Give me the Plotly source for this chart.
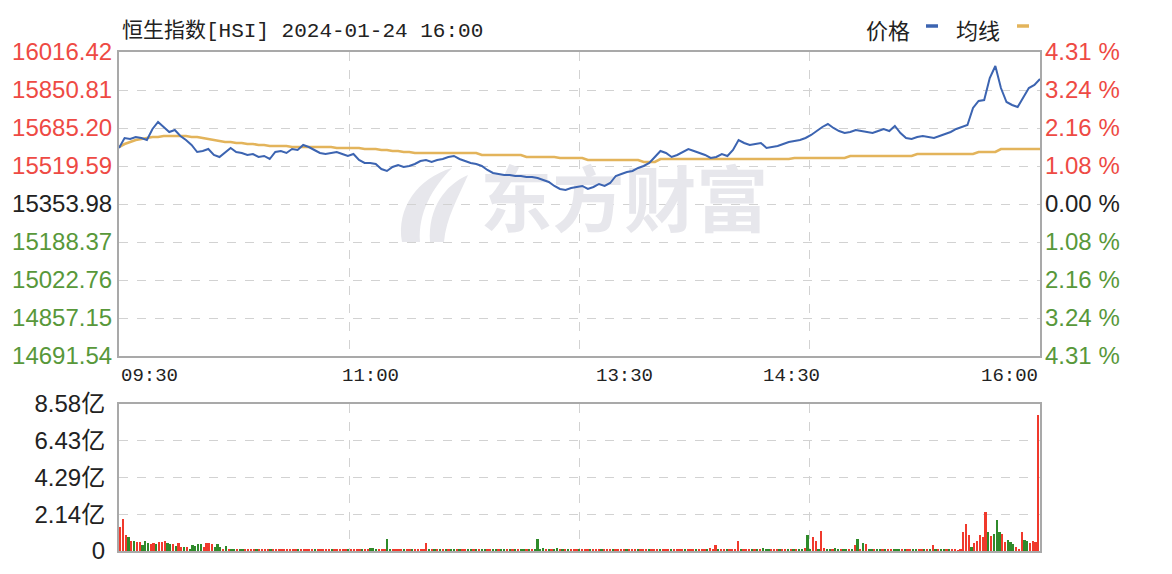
import plotly.graph_objects as go

W, H = 1172, 574

# ---------------- data ----------------
title_text = "恒生指数[HSI] 2024-01-24 16:00"
prev_close = 15353.98
price_levels = [16016.42, 15850.81, 15685.20, 15519.59, 15353.98,
                15188.37, 15022.76, 14857.15, 14691.54]
pct_labels = ["4.31 %", "3.24 %", "2.16 %", "1.08 %", "0.00 %",
              "1.08 %", "2.16 %", "3.24 %", "4.31 %"]
vol_ticks = [0, 2.14, 4.29, 6.43, 8.58]
vol_tick_labels = ["0", "2.14亿", "4.29亿", "6.43亿", "8.58亿"]
time_labels = ["09:30", "11:00", "13:30", "14:30", "16:00"]
time_pos = [0, 90, 181, 241, 330]          # minute index of each label
n_minutes = 331

# price sampled every 2 minutes (minute index 0, 2, ..., 330)
price = [
    15598.1, 15641.6, 15637.3, 15646.0, 15641.6, 15632.9, 15680.9, 15711.4, 15689.6, 15667.8,
    15676.5, 15650.4, 15632.9, 15611.1, 15580.6, 15585.0, 15593.7, 15567.6, 15558.8, 15580.6,
    15598.1, 15580.6, 15576.3, 15567.6, 15571.9, 15558.8, 15563.2, 15550.1, 15580.6, 15585.0,
    15576.3, 15593.7, 15589.3, 15611.1, 15602.4, 15589.3, 15576.3, 15571.9, 15576.3, 15580.6,
    15571.9, 15563.2, 15571.9, 15545.8, 15532.7, 15532.7, 15528.3, 15506.5, 15497.8, 15515.3,
    15524.0, 15515.3, 15519.6, 15528.3, 15541.4, 15545.8, 15537.0, 15545.8, 15550.1, 15558.8,
    15563.2, 15550.1, 15541.4, 15532.7, 15528.3, 15519.6, 15502.2, 15489.1, 15484.8, 15480.4,
    15480.4, 15476.0, 15476.0, 15471.7, 15471.7, 15467.3, 15458.6, 15449.9, 15432.5, 15419.4,
    15415.0, 15423.7, 15428.1, 15432.5, 15419.4, 15428.1, 15441.2, 15432.5, 15445.5, 15476.0,
    15484.8, 15493.5, 15497.8, 15510.9, 15519.6, 15532.7, 15558.8, 15585.0, 15576.3, 15558.8,
    15567.6, 15580.6, 15593.7, 15585.0, 15576.3, 15567.6, 15554.5, 15558.8, 15571.9, 15563.2,
    15589.3, 15632.9, 15619.9, 15611.1, 15615.5, 15619.9, 15598.1, 15602.4, 15606.8, 15615.5,
    15624.2, 15628.6, 15632.9, 15641.6, 15654.7, 15672.1, 15689.6, 15702.6, 15685.2, 15672.1,
    15663.4, 15667.8, 15676.5, 15672.1, 15667.8, 15663.4, 15672.1, 15680.9, 15672.1, 15693.9,
    15663.4, 15641.6, 15637.3, 15646.0, 15650.4, 15646.0, 15641.6, 15650.4, 15659.1, 15667.8,
    15680.9, 15689.6, 15698.3, 15772.4, 15802.9, 15807.2, 15903.1, 15955.4, 15859.5, 15798.5,
    15785.5, 15776.7, 15816.0, 15859.5, 15872.6, 15898.8,
]

# average price line, same sampling
avg = [
    15602.4, 15615.5, 15624.2, 15632.9, 15637.3, 15641.6, 15646.0, 15646.0, 15650.4, 15650.4,
    15650.4, 15650.4, 15650.4, 15646.0, 15646.0, 15641.6, 15637.3, 15632.9, 15628.6, 15624.2,
    15624.2, 15619.9, 15619.9, 15615.5, 15615.5, 15611.1, 15611.1, 15606.8, 15606.8, 15606.8,
    15606.8, 15602.4, 15602.4, 15602.4, 15602.4, 15602.4, 15602.4, 15602.4, 15602.4, 15598.1,
    15598.1, 15598.1, 15598.1, 15598.1, 15593.7, 15593.7, 15593.7, 15589.3, 15589.3, 15585.0,
    15585.0, 15580.6, 15580.6, 15576.3, 15576.3, 15576.3, 15576.3, 15576.3, 15576.3, 15576.3,
    15576.3, 15576.3, 15576.3, 15576.3, 15576.3, 15567.6, 15567.6, 15567.6, 15567.6, 15567.6,
    15567.6, 15567.6, 15567.6, 15558.8, 15558.8, 15558.8, 15558.8, 15558.8, 15558.8, 15554.5,
    15554.5, 15554.5, 15554.5, 15554.5, 15545.8, 15545.8, 15545.8, 15545.8, 15545.8, 15545.8,
    15545.8, 15545.8, 15545.8, 15545.8, 15537.0, 15537.0, 15537.0, 15550.1, 15550.1, 15550.1,
    15550.1, 15550.1, 15550.1, 15550.1, 15550.1, 15550.1, 15550.1, 15550.1, 15550.1, 15550.1,
    15550.1, 15550.1, 15550.1, 15550.1, 15550.1, 15550.1, 15550.1, 15550.1, 15550.1, 15550.1,
    15550.1, 15554.5, 15554.5, 15554.5, 15554.5, 15554.5, 15554.5, 15554.5, 15554.5, 15554.5,
    15554.5, 15563.2, 15563.2, 15563.2, 15563.2, 15563.2, 15563.2, 15563.2, 15563.2, 15563.2,
    15563.2, 15563.2, 15563.2, 15571.9, 15571.9, 15571.9, 15571.9, 15571.9, 15571.9, 15571.9,
    15571.9, 15571.9, 15571.9, 15571.9, 15580.6, 15580.6, 15580.6, 15580.6, 15593.7, 15593.7,
    15593.7, 15593.7, 15593.7, 15593.7, 15593.7, 15593.7,
]
sample_minute = list(range(0, n_minutes, 2))

# volume per minute, in millions (0.01 亿)
vol_m = [
    140, 189, 95, 82, 58, 58, 53, 53, 33, 58, 47, 43, 47, 43, 53, 53, 58, 47, 43, 43,
    27, 47, 23, 23, 23, 10, 33, 27, 39, 43, 23, 47, 47, 39, 23, 39, 23, 10, 31, 12,
    8, 10, 7, 9, 6, 8, 10, 7, 9, 8, 6, 9, 7, 10, 8, 6, 9, 7, 8, 10,
    7, 9, 6, 8, 7, 10, 8, 9, 6, 7, 9, 8, 10, 7, 6, 8, 9, 7, 8, 6,
    9, 7, 8, 10, 6, 9, 7, 8, 12, 9, 15, 20, 8, 7, 10, 9, 70, 12, 8, 6,
    7, 9, 8, 6, 10, 7, 8, 9, 12, 10, 49, 8, 7, 9, 6, 8, 7, 10, 9, 8,
    6, 9, 7, 8, 10, 7, 9, 8, 6, 7, 9, 8, 10, 7, 8, 9, 6, 8, 7, 9,
    8, 10, 7, 9, 8, 6, 9, 8, 10, 14, 72, 12, 18, 9, 8, 10, 7, 20, 8, 9,
    7, 8, 9, 6, 10, 8, 7, 9, 8, 11, 9, 7, 8, 10, 6, 9, 8, 7, 9, 8,
    10, 7, 9, 8, 6, 9, 12, 7, 8, 9, 10, 8, 7, 9, 8, 11, 7, 9, 8, 10,
    9, 7, 8, 10, 9, 8, 12, 7, 9, 8, 11, 9, 15, 10, 35, 8, 7, 9, 10, 8,
    12, 9, 58, 10, 8, 9, 7, 10, 8, 8, 9, 20, 8, 7, 9, 8, 10, 7, 9, 8,
    9, 7, 10, 8, 9, 12, 20, 93, 10, 84, 60, 9, 117, 20, 10, 8, 9, 15, 8, 9,
    7, 10, 9, 12, 35, 72, 10, 49, 41, 10, 9, 8, 7, 9, 8, 10, 9, 7, 8, 9,
    8, 9, 7, 10, 8, 9, 7, 8, 10, 9, 12, 8, 35, 10, 9, 8, 7, 9, 8, 6,
    7, 5, 8,
    111, 156, 91, 23, 47, 58, 95, 82, 228, 111, 86, 101, 179, 111, 101, 53, 62, 53, 39, 23,
    14, 111, 66, 58, 47, 58, 53, 794,
]
# u = price up that minute (red), d = down (green)
vol_dir = "".join([
    "uuududuudd", "duuduuuddu", "duududdddd", "uuuudddudu",
    "ddudduuuud", "uuuuduuuuu", "uuuuduuuuu", "duuuuuduuu",
    "uuduuuuduu", "ddduuudduu", "uuduuduuuu", "ududududud",
    "duduuddudu", "dduudduddu", "dududdudud", "dddududdud",
    "uduuuduuud", "uuuduuuduu", "uuduuuduuu", "duuuduuudu",
    "uuuduuuduu", "uduuuduudu", "uuuduuudud", "uddduuuduu",
    "dududduddu", "uduudduddu", "ddudududud", "dudduduudd",
    "duduudduud", "udududdudu", "uuu",
    "uuuduuuuud", "uddduudddu", "uudduuuu",
])
assert len(vol_m) == n_minutes, len(vol_m)
assert len(vol_dir) == n_minutes, len(vol_dir)
assert len(price) == len(sample_minute) == len(avg)

# ---------------- styling ----------------
RED = "#EE4A44"
GREEN = "#58983A"
DARK = "#222222"
BLUE = "#3C64B1"
GOLD = "#E3B45B"
BAR_RED = "#F0392C"
BAR_GREEN = "#2F8A2A"
GRID = "#D2D2D2"
BORDER = "#A9A9A9"
NUM_FONT = "Liberation Sans, Arial, sans-serif"
CJK_FONT = "Noto Sans CJK SC, sans-serif"

x0, x1 = 119 / W, 1040 / W
main_dom = [1 - 356 / H, 1 - 52 / H]
vol_dom = [1 - 551 / H, 1 - 404 / H]


def colored(text, color):
    return f'<span style="color:{color}">{text}</span>'


price_ticktext = []
pct_vals = []
pct_ticktext = []
for lvl, lab in zip(price_levels, pct_labels):
    c = RED if lvl > prev_close + 1e-6 else (GREEN if lvl < prev_close - 1e-6 else DARK)
    price_ticktext.append(colored(f"{lvl:.2f}", c))
    pct_vals.append((lvl - prev_close) / prev_close * 100)
    pct_ticktext.append(colored(lab, c))

fig = go.Figure()

# watermark (drawn first so lines sit above it)
fig.add_trace(go.Scatter(
    x=[181], y=[prev_close - 18], mode="text", text=["<b>东方财富</b>"],
    textfont=dict(size=72, color="#E7E7EC", family=CJK_FONT),
    hoverinfo="skip", showlegend=False, xaxis="x", yaxis="y"))

fig.add_trace(go.Scatter(
    x=sample_minute, y=avg, mode="lines", line=dict(color=GOLD, width=2.6),
    hoverinfo="skip", showlegend=False, xaxis="x", yaxis="y"))
fig.add_trace(go.Scatter(
    x=sample_minute, y=price, mode="lines", line=dict(color=BLUE, width=2),
    hoverinfo="skip", showlegend=False, xaxis="x", yaxis="y"))

# carrier for the right-hand percent axis
fig.add_trace(go.Scatter(
    x=[0], y=[0], mode="markers", marker=dict(opacity=0), hoverinfo="skip",
    showlegend=False, xaxis="x", yaxis="y3"))

vol_yi = [v / 100 for v in vol_m]
bar_colors = [BAR_RED if d == "u" else BAR_GREEN for d in vol_dir]
fig.add_trace(go.Bar(
    x=list(range(n_minutes)), y=vol_yi, marker=dict(color=bar_colors, line=dict(width=0)),
    width=0.62, hoverinfo="skip", showlegend=False, xaxis="x2", yaxis="y2"))

axis_common = dict(showline=True, mirror=True, linecolor=BORDER, linewidth=2,
                   zeroline=False, ticks="", gridcolor=GRID, griddash="dash", gridwidth=1,
                   automargin=False)

quarters_main = [330 * k / 4 for k in (1, 2, 3)]

fig.update_layout(
    width=W, height=H, autosize=False,
    margin=dict(l=0, r=0, t=0, b=0, pad=0, autoexpand=False),
    paper_bgcolor="white", plot_bgcolor="white",
    showlegend=False,
    bargap=0,
    xaxis=dict(domain=[x0, x1], range=[0, 330], anchor="y", tickvals=quarters_main,
               showticklabels=False, showgrid=True, **axis_common),
    yaxis=dict(domain=main_dom, range=[price_levels[-1], price_levels[0]], anchor="x",
               tickvals=price_levels, ticktext=price_ticktext, showgrid=True,
               tickfont=dict(family=NUM_FONT, size=24, color=DARK),
               ticklabelstandoff=0, **axis_common),
    yaxis3=dict(overlaying="y", side="right", anchor="x",
                range=[pct_vals[-1], pct_vals[0]], tickvals=pct_vals, ticktext=pct_ticktext,
                showgrid=False, showline=False, zeroline=False, ticks="", automargin=False,
                tickfont=dict(family=NUM_FONT, size=24, color=DARK), ticklabelstandoff=4),
    xaxis2=dict(domain=[x0, x1], range=[-0.5, 330.5], anchor="y2", tickvals=quarters_main,
                showticklabels=False, showgrid=True, **axis_common),
    yaxis2=dict(domain=vol_dom, range=[0, vol_ticks[-1]], anchor="x2",
                tickvals=vol_ticks, ticktext=vol_tick_labels, showgrid=True,
                tickfont=dict(family=NUM_FONT + ", Noto Sans CJK SC", size=24, color=DARK),
                ticklabelstandoff=7, **axis_common),
)

annotations = [
    dict(text=title_text, xref="paper", yref="paper", x=120 / W, y=1 - 31 / H,
         xanchor="left", yanchor="middle", showarrow=False,
         font=dict(family="Liberation Mono, Noto Sans CJK SC", size=21, color=DARK)),
    dict(text="价格", xref="paper", yref="paper", x=864 / W, y=1 - 29 / H,
         xanchor="left", yanchor="middle", showarrow=False,
         font=dict(family=CJK_FONT, size=22, color=DARK)),
    dict(text="均线", xref="paper", yref="paper", x=954 / W, y=1 - 29 / H,
         xanchor="left", yanchor="middle", showarrow=False,
         font=dict(family=CJK_FONT, size=22, color=DARK)),
]
for lab, pos in zip(time_labels, time_pos):
    anchor = "left" if pos == time_pos[0] else ("right" if pos == time_pos[-1] else "center")
    annotations.append(dict(text=lab, xref="x", yref="paper", x=pos, y=1 - 376 / H,
                            xanchor=anchor, yanchor="middle", showarrow=False,
                            font=dict(family="Liberation Mono, monospace", size=19, color=DARK)))
fig.update_layout(annotations=annotations)

# legend swatches and a simple stand-in for the watermark logo strokes
logo_color = "#E7E7EC"
fig.update_layout(shapes=[
    dict(type="line", xref="paper", yref="paper", x0=926 / W, x1=938 / W,
         y0=1 - 26 / H, y1=1 - 26 / H, line=dict(color=BLUE, width=3.5)),
    dict(type="line", xref="paper", yref="paper", x0=1017 / W, x1=1029 / W,
         y0=1 - 26 / H, y1=1 - 26 / H, line=dict(color=GOLD, width=3.5)),
    dict(type="path", xref="paper", yref="paper", layer="below", line=dict(width=0),
         fillcolor=logo_color,
         path=(f"M {402/W},{1-242/H} C {396/W},{1-208/H} {418/W},{1-178/H} {452/W},{1-168/H} "
               f"C {432/W},{1-188/H} {418/W},{1-213/H} {420/W},{1-242/H} Z")),
    dict(type="path", xref="paper", yref="paper", layer="below", line=dict(width=0),
         fillcolor=logo_color,
         path=(f"M {430/W},{1-242/H} C {428/W},{1-208/H} {445/W},{1-185/H} {468/W},{1-175/H} "
               f"C {458/W},{1-198/H} {446/W},{1-218/H} {444/W},{1-242/H} Z")),
])

fig.write_html("out.html",
               config={"displayModeBar": False},
               post_script="document.body.style.margin='0';document.body.style.overflow='hidden';")
